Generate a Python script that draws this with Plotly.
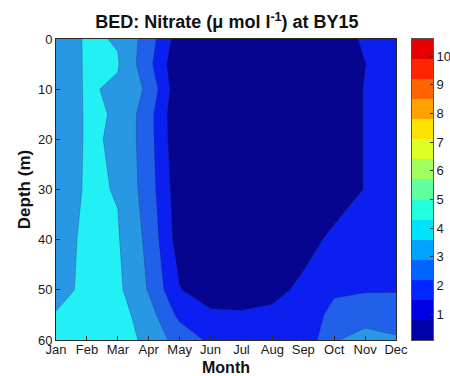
import plotly.graph_objects as go

# Sampling grid
months = ["Jan", "Feb", "Mar", "Apr", "May", "Jun",
          "Jul", "Aug", "Sep", "Oct", "Nov", "Dec"]
month_num = [1, 2, 3, 4, 5, 6, 7, 8, 9, 10, 11, 12]
depths = [0, 5, 10, 15, 20, 30, 40, 50, 55, 60]

# Nitrate (umol/l) profiles, one list per month, ordered by depth
jan = [3.21, 3.15, 3.39, 3.33, 3.33, 3.21, 3.36, 3.70, 4.05, 4.20]
feb = [4.15, 4.15, 4.10, 4.10, 4.10, 4.15, 4.30, 4.20, 4.30, 4.40]
mar = [3.93, 4.07, 3.86, 3.95, 3.91, 3.95, 4.08, 4.22, 4.44, 4.74]
apr = [2.50, 2.28, 2.79, 2.37, 2.39, 2.49, 2.73, 2.92, 3.42, 3.60]
may = [0.45, 0.07, 0.17, 0.09, 0.15, 0.36, 0.50, 1.05, 1.75, 2.63]
jun = [0.30, 0.25, 0.25, 0.25, 0.25, 0.25, 0.30, 0.40, 1.20, 1.80]
jul = [0.25, 0.20, 0.20, 0.20, 0.20, 0.20, 0.30, 0.35, 1.15, 1.50]
aug = [0.25, 0.20, 0.20, 0.20, 0.20, 0.25, 0.35, 0.60, 1.30, 1.40]
sep = [0.25, 0.25, 0.25, 0.25, 0.25, 0.25, 0.50, 1.30, 1.40, 1.26]
oct_ = [0.30, 0.30, 0.30, 0.30, 0.30, 0.30, 1.30, 1.85, 2.30, 2.90]
nov = [1.20, 0.98, 1.05, 1.05, 1.05, 1.05, 1.50, 1.93, 2.53, 3.43]
dec = [1.60, 1.60, 1.60, 1.60, 1.60, 1.50, 1.60, 1.95, 2.40, 3.15]

profiles = [jan, feb, mar, apr, may, jun, jul, aug, sep, oct_, nov, dec]
z = [[profiles[j][i] for j in range(len(months))] for i in range(len(depths))]

# Contour levels 1..10 and the fill colour of each band (below 1, 1-2, ..., above 10)
level_start, level_end, level_step = 1, 10, 1
band_colors = ["#05058f", "#0a1ff0", "#2160e8", "#2897e4", "#22f0f5",
               "#7dffb0", "#c8ff60", "#ffe600", "#ff9a00", "#ff4a00", "#e00000"]

# Colour bar scale
cbar_ticks = [1, 2, 3, 4, 5, 6, 7, 8, 9, 10]
cbar_low, cbar_step, cbar_n = 0.1, 0.7, 15


def jet(t):
    r = min(max(1.5 - abs(4 * t - 3), 0), 1)
    g = min(max(1.5 - abs(4 * t - 2), 0), 1)
    b = min(max(1.5 - abs(4 * t - 1), 0), 1)
    return f"rgb({round(r * 255)},{round(g * 255)},{round(b * 255)})"


cbar_centers = [cbar_low + cbar_step * (k + 0.5) for k in range(cbar_n)]
cbar_colors = [jet(0.04 + k * (0.90 - 0.04) / (cbar_n - 1)) for k in range(cbar_n)]

FONT = "Liberation Sans, Arial, sans-serif"
W, H = 450, 376
ML, MR, MT, MB = 56, 16, 39, 36
plot_w = W - ML - MR
plot_h = H - MT - MB
main_right = (396 - ML) / plot_w
cb_left, cb_right = (412 - ML) / plot_w, (433 - ML) / plot_w

fig = go.Figure()

fig.add_trace(go.Contour(
    x=month_num, y=depths, z=z,
    autocontour=False,
    contours=dict(start=level_start, end=level_end, size=level_step,
                  coloring="fill", showlines=True),
    colorscale=[[j / (len(band_colors) - 1), c] for j, c in enumerate(band_colors)],
    line=dict(width=0.6, color="rgba(40,40,70,0.45)", smoothing=0),
    showscale=False, hoverinfo="skip",
))

fig.add_trace(go.Heatmap(
    x=[0], y=cbar_centers, z=[[c] for c in cbar_centers],
    colorscale=[[k / (cbar_n - 1), col] for k, col in enumerate(cbar_colors)],
    zmin=cbar_centers[0], zmax=cbar_centers[-1],
    showscale=False, hoverinfo="skip", xaxis="x2", yaxis="y2",
))

axis_common = dict(showline=True, linecolor="#2a2a2a", linewidth=1, mirror=True,
                   ticks="inside", ticklen=4, tickcolor="#2a2a2a",
                   showgrid=False, zeroline=False,
                   tickfont=dict(family=FONT, size=13, color="#1a1a1a"))

fig.update_layout(
    width=W, height=H,
    margin=dict(l=ML, r=MR, t=MT, b=MB),
    paper_bgcolor="white", plot_bgcolor="white",
    title=dict(text="BED: Nitrate (\u03bc mol l<sup>-1</sup>) at BY15",
               x=(227 - ML) / plot_w, xref="paper", xanchor="center",
               y=1 - 22 / H, yref="container", yanchor="middle",
               font=dict(family=FONT, size=18, color="#111", weight="bold")),
    xaxis=dict(domain=[0, main_right], range=[1, 12],
               tickvals=month_num, ticktext=months, ticklabelstandoff=-3,
               automargin=False, **axis_common),
    yaxis=dict(range=[60, 0], tickvals=[0, 10, 20, 30, 40, 50, 60],
               title=dict(text="Depth (m)", standoff=2,
                          font=dict(family=FONT, size=17, color="#111", weight="bold")),
               automargin=False, **axis_common),
    xaxis2=dict(domain=[cb_left, cb_right], range=[-0.5, 0.5], anchor="y2",
                showticklabels=False, ticks="", showline=True, mirror=True,
                linecolor="#555", linewidth=1, showgrid=False, zeroline=False),
    yaxis2=dict(domain=[0, 1], range=[cbar_low, cbar_low + cbar_step * cbar_n],
                anchor="x2", side="right", tickvals=cbar_ticks,
                showline=True, mirror=True, linecolor="#555", linewidth=1,
                ticks="inside", ticklen=3, tickcolor="#333",
                showgrid=False, zeroline=False, automargin=False,
                tickfont=dict(family=FONT, size=13, color="#1a1a1a")),
    annotations=[dict(text="<b>Month</b>", xref="paper", yref="paper",
                      x=(226 - ML) / plot_w,
                      y=-(367 - (H - MB)) / plot_h,
                      xanchor="center", yanchor="middle", showarrow=False,
                      font=dict(family=FONT, size=16, color="#111"))],
    showlegend=False,
)

fig.write_html("out.html")
